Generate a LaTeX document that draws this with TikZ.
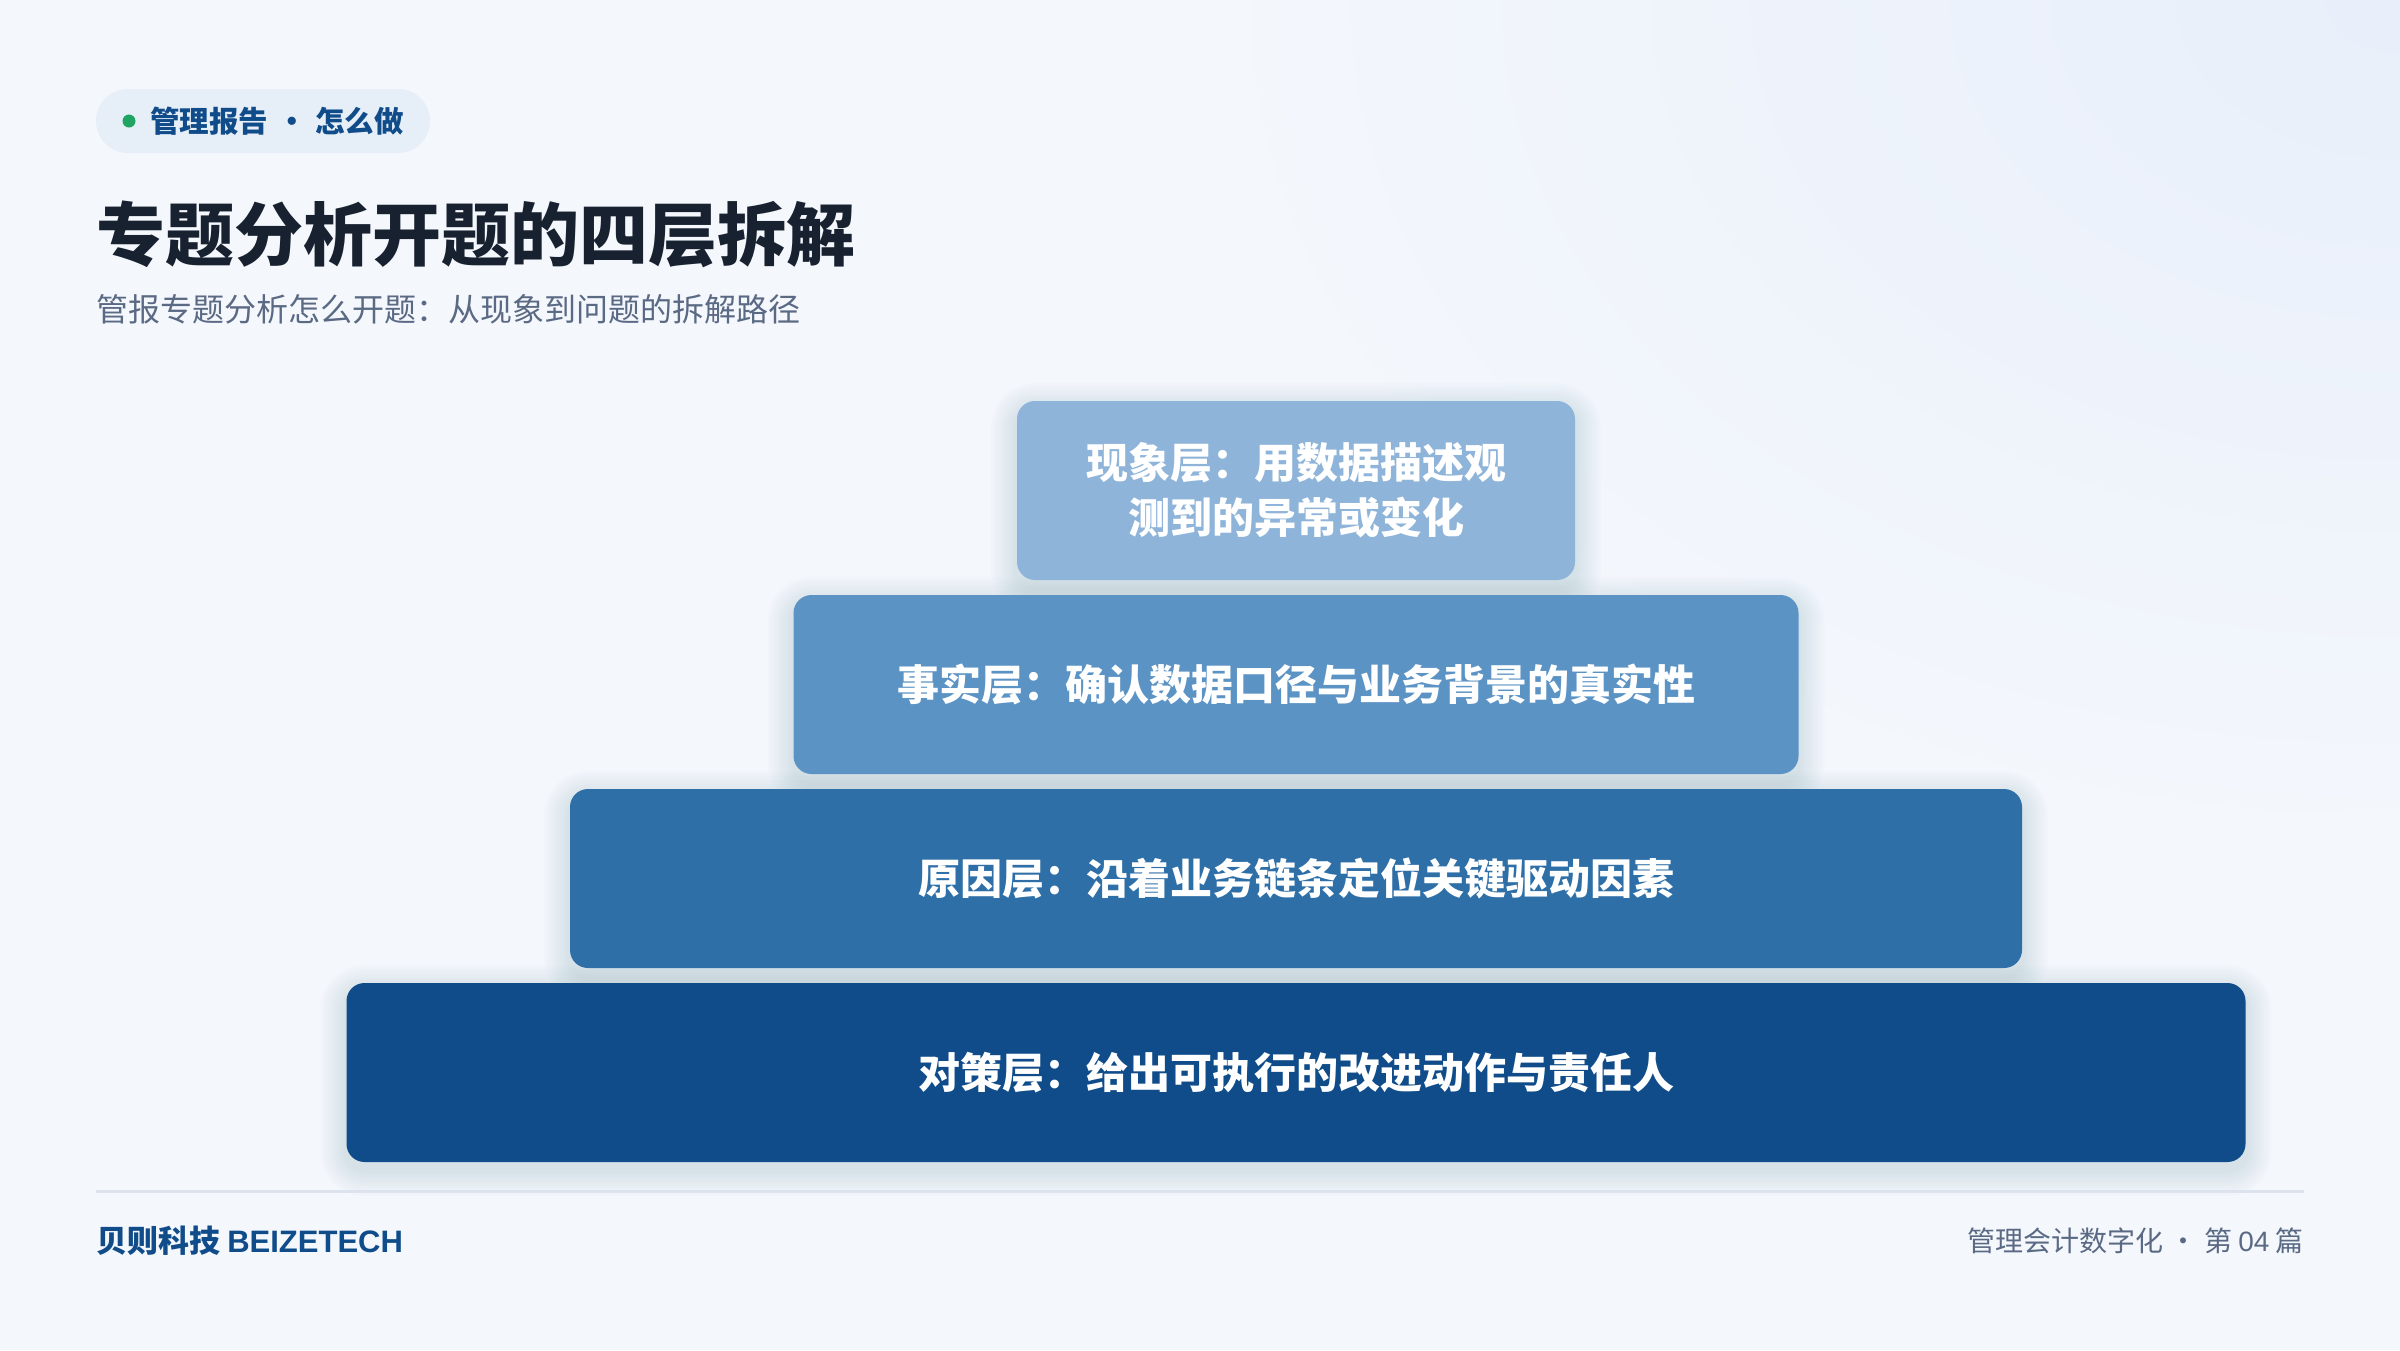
\documentclass[tikz,border=0pt]{standalone}
\usepackage{fontspec}
\setmainfont{Noto Sans CJK SC}
\newfontfamily\latinf{Liberation Sans}
\definecolor{bg}{HTML}{F4F7FC}
\definecolor{bgcorner}{HTML}{E8EFFA}
\definecolor{pillbg}{HTML}{E6EEF8}
\definecolor{navy}{HTML}{0F4C89}
\definecolor{dotgreen}{HTML}{1FA463}
\definecolor{titlec}{HTML}{18212F}
\definecolor{subc}{HTML}{5B6A84}
\definecolor{rulec}{HTML}{DCE3EC}
\definecolor{shadowc}{HTML}{2A4A78}
\definecolor{lay1}{HTML}{8FB4D9}
\definecolor{lay2}{HTML}{5B93C5}
\definecolor{lay3}{HTML}{2E6FA8}
\definecolor{lay4}{HTML}{0F4C89}
\tikzset{
  layerbox/.style={rectangle, rounded corners=18pt, inner sep=0pt, minimum height=179pt,
    text=white, font=\bfseries\fontsize{42}{55}\selectfont, align=center},
  lefttext/.style={anchor=west, inner sep=0pt},
  softshadow/.style={fill=shadowc, fill opacity=0.012},
}
% soft shadow: center x, center y, width, height
\newcommand{\mysoftshadow}[4]{%
  \foreach \k in {1,...,10}{%
    \fill[softshadow, rounded corners={18pt+2.6pt*\k}]
      ({#1-#3/2-2.6*\k},{#2-#4/2-2.6*\k+8}) rectangle ({#1+#3/2+2.6*\k},{#2+#4/2+2.6*\k+8});
  }%
}
\begin{document}
\begin{tikzpicture}[x=1pt,y=-1pt]
  \fill[bg] (0,0) rectangle (2400,1350);
  \begin{scope}
    \clip (0,0) rectangle (2400,1350);
    \shade[inner color=bgcorner, outer color=bg] (1200,-850) rectangle (3600,850);
  \end{scope}
  \useasboundingbox (0,0) rectangle (2400,1350);

  % tag pill
  \node[rectangle, rounded corners=32pt, fill=pillbg, minimum width=334pt, minimum height=64pt, inner sep=0pt] (tag) at (263,121) {};
  \node[circle, fill=dotgreen, minimum size=13pt, inner sep=0pt] (dot) at (129,121) {};
  \node[lefttext, text=navy, font=\bfseries\fontsize{29.5}{34}\selectfont] (tagtext) at (150,121) {管理报告\hspace{0.3em}·\hspace{0.3em}怎么做};

  % title and subtitle
  \node[lefttext, text=titlec, font=\bfseries\fontsize{69}{80}\selectfont] (title) at (96,234) {专题分析开题的四层拆解};
  \node[lefttext, text=subc, font=\fontsize{32}{38}\selectfont] (subtitle) at (96,309) {管报专题分析怎么开题：从现象到问题的拆解路径};

  % shadows
  \mysoftshadow{1296}{490.5}{558}{179}
  \mysoftshadow{1296}{684.5}{1005}{179}
  \mysoftshadow{1296}{878.5}{1452}{179}
  \mysoftshadow{1296}{1072.5}{1899}{179}

  % layers
  \node[layerbox, fill=lay1, minimum width=558pt] (l1) at (1296,490.5) {现象层：用数据描述观\\测到的异常或变化};
  \node[layerbox, fill=lay2, minimum width=1005pt] (l2) at (1296,684.5) {事实层：确认数据口径与业务背景的真实性};
  \node[layerbox, fill=lay3, minimum width=1452pt] (l3) at (1296,878.5) {原因层：沿着业务链条定位关键驱动因素};
  \node[layerbox, fill=lay4, minimum width=1899pt] (l4) at (1296,1072.5) {对策层：给出可执行的改进动作与责任人};

  % footer
  \coordinate (rl) at (96,1191);
  \coordinate (rr) at (2304,1191);
  \draw[rulec, line width=3pt] (rl) -- (rr);
  \node[lefttext, text=navy, font=\bfseries\fontsize{31}{36}\selectfont] (brand) at (96,1241) {贝则科技 {\latinf BEIZETECH}};
  \node[anchor=east, inner sep=0pt, text=subc, font=\fontsize{28}{34}\selectfont] (page) at (2304,1241) {管理会计数字化 · 第 {\latinf 04} 篇};
\end{tikzpicture}
\end{document}
